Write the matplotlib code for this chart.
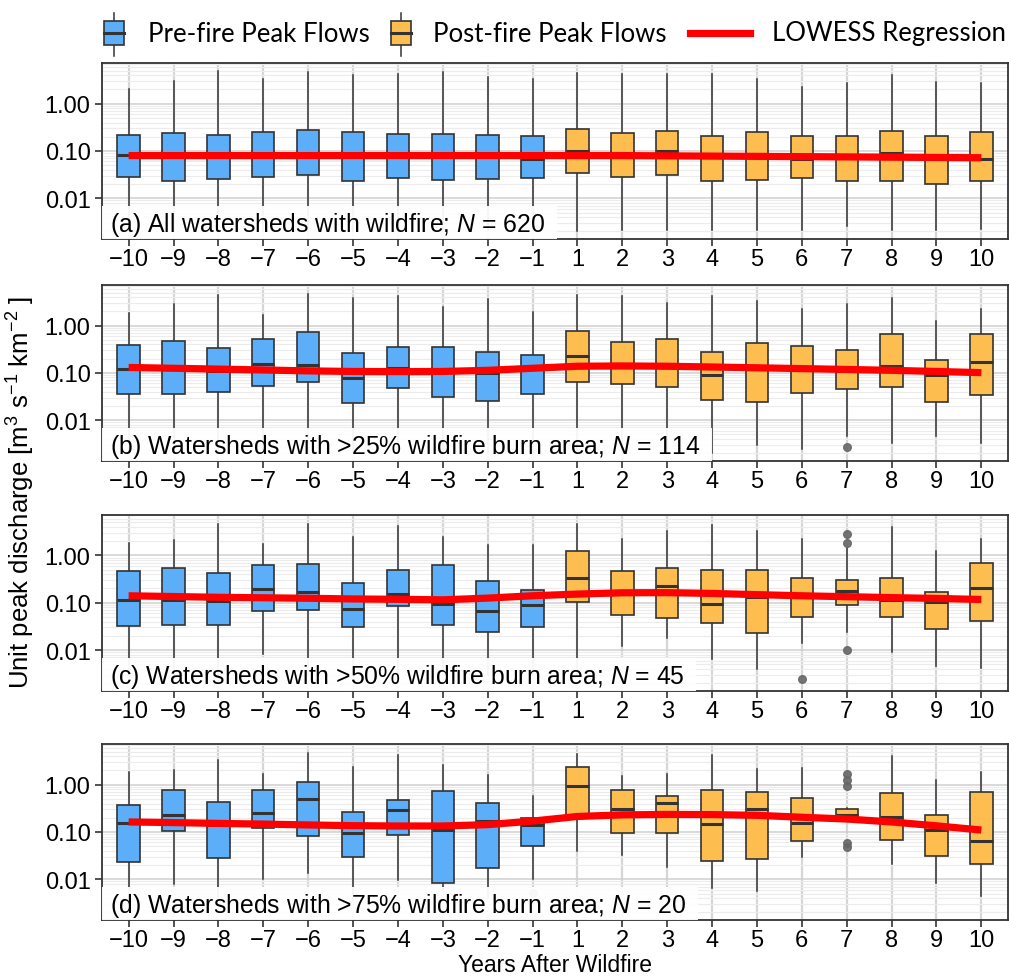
import matplotlib
matplotlib.use("Agg")
import matplotlib.pyplot as plt
from matplotlib.patches import Rectangle
from matplotlib.lines import Line2D
from matplotlib.ticker import FixedLocator, LogLocator, NullFormatter
import numpy as np

plt.rcParams['font.family'] = ['Liberation Sans', 'DejaVu Sans']
plt.rcParams['mathtext.fontset'] = 'custom'
plt.rcParams['mathtext.rm'] = 'Liberation Sans'
plt.rcParams['mathtext.it'] = 'Liberation Sans:italic'

# categories: years relative to wildfire
years = [-10, -9, -8, -7, -6, -5, -4, -3, -2, -1, 1, 2, 3, 4, 5, 6, 7, 8, 9, 10]
year_labels = [str(y).replace('-', '\u2212') for y in years]

# (a) all watersheds
q1_a = [0.0278, 0.0237, 0.026, 0.028, 0.031, 0.023, 0.0265, 0.0248, 0.026, 0.027,
        0.034, 0.028, 0.031, 0.0237, 0.0248, 0.0265, 0.0237, 0.023, 0.0204, 0.0237]
med_a = [0.084, 0.08, 0.08, 0.08, 0.085, 0.08, 0.08, 0.08, 0.08, 0.067,
         0.10, 0.085, 0.098, 0.08, 0.08, 0.069, 0.075, 0.089, 0.07, 0.068]
q3_a = [0.218, 0.245, 0.215, 0.25, 0.28, 0.248, 0.225, 0.233, 0.218, 0.207,
        0.29, 0.24, 0.27, 0.21, 0.25, 0.204, 0.21, 0.265, 0.21, 0.25]
lo_a = [0.002] * 10 + [0.0020, 0.0021, 0.0021, 0.0021, 0.0021, 0.0021, 0.0026, 0.0021, 0.0021, 0.0023]
hi_a = [2.08, 3.0, 4.9, 3.4, 4.7, 4.0, 4.2, 4.7, 3.65, 3.4,
        4.4, 4.2, 4.2, 4.2, 3.4, 2.2, 2.8, 4.0, 2.9, 2.8]
fl_a = {}
lowess_a = [0.080, 0.080, 0.080, 0.080, 0.080, 0.080, 0.080, 0.080, 0.080, 0.080,
            0.080, 0.080, 0.079, 0.078, 0.077, 0.076, 0.075, 0.074, 0.073, 0.072]

# (b) >25% burn area
q1_b = [0.0365, 0.035, 0.04, 0.053, 0.064, 0.0235, 0.048, 0.031, 0.025, 0.0365,
        0.064, 0.057, 0.049, 0.026, 0.024, 0.037, 0.045, 0.0506, 0.0244, 0.034]
med_b = [0.12, 0.125, 0.11, 0.152, 0.145, 0.077, 0.127, 0.11, 0.097, 0.12,
         0.232, 0.13, 0.13, 0.089, 0.12, 0.115, 0.11, 0.14, 0.091, 0.17]
q3_b = [0.38, 0.48, 0.33, 0.53, 0.72, 0.26, 0.35, 0.35, 0.28, 0.24,
        0.76, 0.45, 0.53, 0.27, 0.43, 0.365, 0.30, 0.68, 0.19, 0.65]
lo_b = [0.002] * 14 + [0.0029, 0.0025, 0.0045, 0.0033, 0.0046, 0.0033]
hi_b = [1.86, 2.8, 4.5, 1.65, 4.7, 3.9, 4.2, 2.5, 3.7, 1.95,
        4.5, 4.2, 3.06, 4.2, 3.3, 2.2, 2.8, 3.9, 1.26, 2.2]
fl_b = {7: [0.0027]}
lowess_b = [0.13, 0.125, 0.12, 0.115, 0.11, 0.107, 0.106, 0.107, 0.113, 0.125,
            0.138, 0.14, 0.138, 0.133, 0.128, 0.123, 0.118, 0.113, 0.107, 0.101]

# (c) >50% burn area
q1_c = [0.032, 0.034, 0.034, 0.0666, 0.069, 0.0304, 0.084, 0.034, 0.0238, 0.0304,
        0.102, 0.0556, 0.048, 0.038, 0.023, 0.051, 0.089, 0.051, 0.0276, 0.042]
med_c = [0.116, 0.115, 0.107, 0.195, 0.17, 0.073, 0.155, 0.094, 0.068, 0.091,
         0.34, 0.16, 0.22, 0.092, 0.13, 0.14, 0.18, 0.114, 0.105, 0.2]
q3_c = [0.466, 0.54, 0.42, 0.64, 0.65, 0.26, 0.50, 0.62, 0.285, 0.19,
        1.26, 0.457, 0.54, 0.48, 0.50, 0.335, 0.304, 0.34, 0.169, 0.70]
lo_c = [0.003, 0.003, 0.003, 0.0081, 0.003, 0.003, 0.003, 0.003, 0.003, 0.003,
        0.003, 0.0122, 0.018, 0.0066, 0.004, 0.0138, 0.0235, 0.0091, 0.0045, 0.0042]
hi_c = [1.84, 2.1, 4.5, 1.7, 4.7, 2.4, 4.2, 2.5, 1.63, 1.63,
        4.5, 2.26, 3.2, 4.4, 3.3, 2.2, 1.44, 4.0, 1.26, 2.2]
fl_c = {6: [0.0024], 7: [2.85, 1.86, 0.01]}
lowess_c = [0.14, 0.135, 0.13, 0.127, 0.124, 0.12, 0.118, 0.115, 0.125, 0.14,
            0.152, 0.162, 0.163, 0.157, 0.148, 0.14, 0.134, 0.128, 0.123, 0.117]

# (d) >75% burn area
q1_d = [0.0231, 0.105, 0.0285, 0.12, 0.082, 0.029, 0.088, 0.0082, 0.017, 0.051,
        0.233, 0.097, 0.096, 0.0243, 0.0268, 0.065, 0.198, 0.068, 0.031, 0.021]
med_d = [0.152, 0.225, 0.14, 0.25, 0.51, 0.097, 0.29, 0.108, 0.17, 0.14,
         0.94, 0.30, 0.42, 0.15, 0.30, 0.157, 0.23, 0.21, 0.11, 0.063]
q3_d = [0.373, 0.79, 0.43, 0.78, 1.15, 0.265, 0.48, 0.74, 0.42, 0.2,
        2.34, 0.78, 0.58, 0.78, 0.70, 0.525, 0.30, 0.66, 0.225, 0.69]
lo_d = [0.004, 0.0079, 0.004, 0.0103, 0.0137, 0.004, 0.0097, 0.006, 0.004, 0.0102,
        0.039, 0.033, 0.0184, 0.0067, 0.0056, 0.029, 0.19, 0.021, 0.0085, 0.0045]
hi_d = [1.87, 2.05, 3.3, 1.66, 4.7, 2.4, 4.2, 2.6, 1.63, 0.57,
        4.55, 1.53, 1.69, 4.3, 2.1, 2.2, 0.32, 4.07, 1.24, 1.87]
fl_d = {-1: [0.0051], 7: [1.72, 1.24, 0.94, 0.059, 0.048]}
lowess_d = [0.163, 0.158, 0.152, 0.147, 0.141, 0.136, 0.134, 0.134, 0.143, 0.17,
            0.213, 0.23, 0.235, 0.233, 0.225, 0.205, 0.188, 0.163, 0.135, 0.11]

labels = ["(a) All watersheds with wildfire; $N$ = 620",
          "(b) Watersheds with >25% wildfire burn area; $N$ = 114",
          "(c) Watersheds with >50% wildfire burn area; $N$ = 45",
          "(d) Watersheds with >75% wildfire burn area; $N$ = 20"]

panels = [(q1_a, med_a, q3_a, lo_a, hi_a, fl_a, lowess_a),
          (q1_b, med_b, q3_b, lo_b, hi_b, fl_b, lowess_b),
          (q1_c, med_c, q3_c, lo_c, hi_c, fl_c, lowess_c),
          (q1_d, med_d, q3_d, lo_d, hi_d, fl_d, lowess_d)]

blue = '#5DAEF8'
orange = '#FDBE4F'
dark = '#333333'
tick_fs = 17
label_fs = 17.8

W, H = 1009, 979
fig = plt.figure(figsize=(W / 100, H / 100), dpi=100)
renderer = fig.canvas.get_renderer()

# axes boxes in pixels (top, bottom)
ax_tb = [(64, 240), (286, 461.7), (515.7, 691.7), (745, 921)]
left_px, right_px = 101.7, 1008.3

pos = np.arange(len(years))
for (top, bot), data, lab in zip(ax_tb, panels, labels):
    q1, med, q3, lo, hi, fl, lw = data
    ax_h = bot - top
    ax_w = right_px - left_px
    ax = fig.add_axes([left_px / W, 1 - bot / H, ax_w / W, ax_h / H])
    ax.set_yscale('log')
    stats = []
    for i, y in enumerate(years):
        stats.append({'med': med[i], 'q1': q1[i], 'q3': q3[i],
                      'whislo': lo[i], 'whishi': hi[i], 'fliers': fl.get(y, [])})
    bp = ax.bxp(stats, positions=pos, widths=0.5, patch_artist=True, showcaps=False,
                boxprops=dict(edgecolor=dark, linewidth=1.2),
                medianprops=dict(color=dark, linewidth=2.2, solid_capstyle='butt'),
                whiskerprops=dict(color=dark, linewidth=1.1),
                flierprops=dict(marker='o', markerfacecolor='#666666', markeredgecolor='#666666',
                                markersize=5.5, alpha=0.9))
    for b, y in zip(bp['boxes'], years):
        b.set_facecolor(blue if y < 0 else orange)
        b.set_zorder(3)
    for m in bp['medians']:
        m.set_zorder(4)
    ax.plot(pos, lw, color='#FF0000', linewidth=5.2, zorder=5, solid_capstyle='butt')

    ax.set_xlim(-0.6, len(years) - 0.4)
    ax.set_ylim(10 ** -2.86, 10 ** 0.86)
    ax.set_xticks(pos)
    ax.set_xticklabels(year_labels, fontsize=tick_fs)
    ax.yaxis.set_major_locator(FixedLocator([0.01, 0.1, 1.0]))
    ax.set_yticklabels(['0.01', '0.10', '1.00'], fontsize=tick_fs)
    ax.yaxis.set_minor_locator(LogLocator(base=10, subs=np.arange(2, 10), numticks=20))
    ax.yaxis.set_minor_formatter(NullFormatter())
    ax.tick_params(which='major', length=5, width=1.2, color=dark, labelcolor='black', pad=3)
    ax.tick_params(axis='x', which='major', pad=1.5)
    ax.tick_params(which='minor', length=0)
    ax.grid(True, which='major', axis='y', color='#cfcfcf', linewidth=1.1, zorder=0)
    ax.grid(True, which='minor', axis='y', color='#ececec', linewidth=0.8, zorder=0)
    ax.grid(True, which='major', axis='x', color='#d6d6d6', linewidth=1.6, zorder=0)
    ax.set_axisbelow(True)
    for s in ax.spines.values():
        s.set_color(dark)
        s.set_linewidth(1.3)

    # panel label on a white box that sits on the bottom axis
    t = ax.text(8 / ax_w, 8 / ax_h, lab, transform=ax.transAxes, fontsize=label_fs,
                ha='left', va='baseline', zorder=11)
    bb = t.get_window_extent(renderer).transformed(ax.transAxes.inverted())
    ax.add_patch(Rectangle((0, 0), bb.x1 + 12 / ax_w, 33 / ax_h, transform=ax.transAxes,
                           facecolor='white', edgecolor='none', alpha=0.95, zorder=10))

fig.text(21 / W, 1 - 492 / H, 'Unit peak discharge [m$^{3}$ s$^{-1}$ km$^{-2}$ ]',
         rotation=90, ha='center', va='center', fontsize=18.5)
fig.text(555 / W, 1 - 966 / H, 'Years After Wildfire', ha='center', va='center', fontsize=16.5)

# legend drawn in pixel coordinates
lg = fig.add_axes([0, 0, 1, 1])
lg.set_xlim(0, W)
lg.set_ylim(H, 0)
lg.axis('off')
for x0, col in [(104, blue), (391, orange)]:
    lg.add_line(Line2D([x0 + 10, x0 + 10], [14, 57], color=dark, linewidth=1.1))
    lg.add_patch(Rectangle((x0, 22), 20, 24, facecolor=col, edgecolor=dark, linewidth=1.2, zorder=3))
    lg.add_line(Line2D([x0, x0 + 20], [34, 34], color=dark, linewidth=2.2, zorder=4))
lg.add_line(Line2D([690, 750], [34, 34], color='#FF0000', linewidth=5.2))
for x0, t in [(148, 'Pre-fire Peak Flows'), (433, 'Post-fire Peak Flows'), (772, 'LOWESS Regression')]:
    lg.text(x0, 34, t, ha='left', va='center', fontsize=18.5, family='Lato')

fig.savefig('out.png', dpi=100)
